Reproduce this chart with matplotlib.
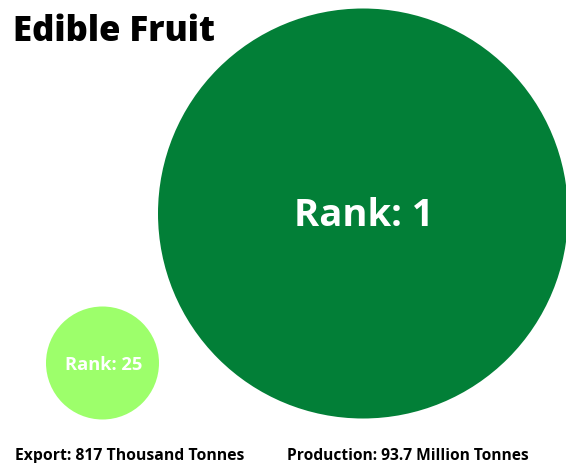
import matplotlib
matplotlib.use("Agg")
import matplotlib.pyplot as plt
from matplotlib.patches import Circle

# Chart data
title = "Edible Fruit"
ranks = [1, 25]
circle_labels = [f"Rank: {r}" for r in ranks]
footer_labels = ["Export: 817 Thousand Tonnes", "Production: 93.7 Million Tonnes"]

# Layout in pixel units (y grows downward)
W, H = 566, 464
centers = [(363, 214.5), (102.5, 364)]
radii = [205, 56.5]
colors = ["#027f37", "#9dff6b"]
label_sizes = [27.5, 13.2]
FONT = "Open Sans"

fig = plt.figure(figsize=(W / 100, H / 100), dpi=100)
ax = fig.add_axes([0, 0, 1, 1])
ax.set_xlim(0, W)
ax.set_ylim(H, 0)
ax.set_aspect("equal")
ax.axis("off")

for (cx, cy), r, c, lab, fs in zip(centers, radii, colors, circle_labels, label_sizes):
    ax.add_patch(Circle((cx, cy), r, color=c, lw=0))
    ax.text(cx + 1, cy + 1.5, lab, color="white", fontsize=fs, fontweight="bold",
            family=FONT, ha="center", va="center")

ax.text(13, 32, title, fontsize=25, fontweight="heavy", family=FONT,
        ha="left", va="center", color="black")

ax.text(15, 460, footer_labels[0], fontsize=11.3, fontweight="bold",
        family=FONT, ha="left", va="baseline")
ax.text(287, 460, footer_labels[1], fontsize=11.2, fontweight="bold",
        family=FONT, ha="left", va="baseline")

fig.savefig("out.png", dpi=100)
